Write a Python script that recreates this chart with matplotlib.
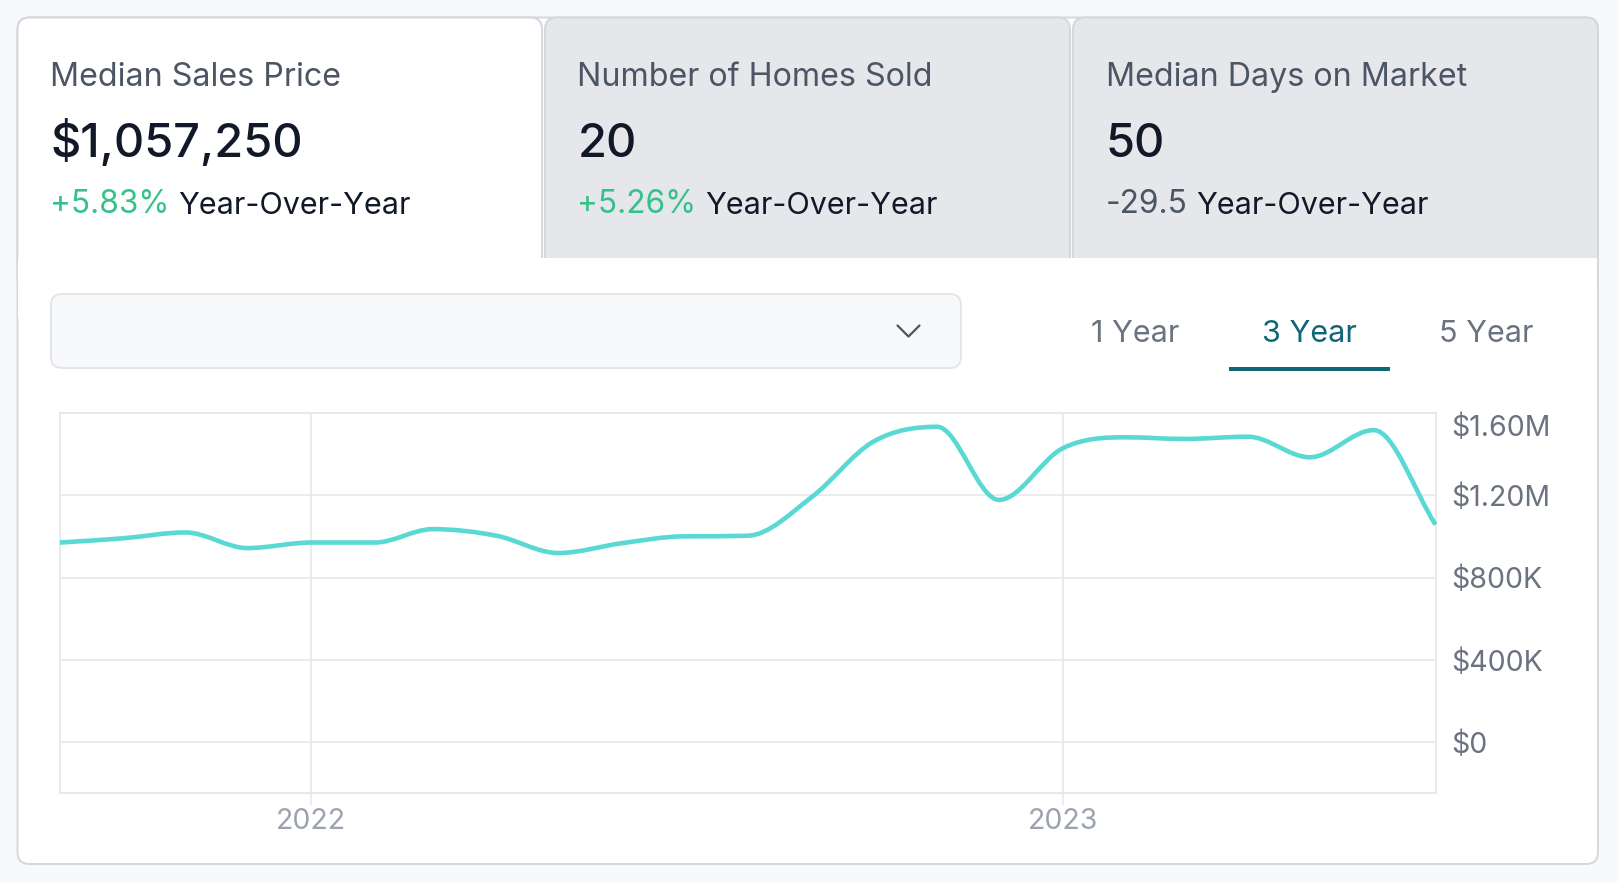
import matplotlib
matplotlib.use("Agg")
import matplotlib.pyplot as plt
import matplotlib.dates as mdates
from matplotlib.patches import FancyBboxPatch, Rectangle, PathPatch
from matplotlib.path import Path
from matplotlib.transforms import ScaledTranslation
import numpy as np
import datetime as dt

plt.rcParams['font.family'] = ['Inter', 'DejaVu Sans']

# ---------------- data ----------------
months = ["2021-09", "2021-10", "2021-11", "2021-12", "2022-01", "2022-02", "2022-03",
          "2022-04", "2022-05", "2022-06", "2022-07", "2022-08", "2022-09", "2022-10",
          "2022-11", "2022-12", "2023-01", "2023-02", "2023-03", "2023-04", "2023-05",
          "2023-06", "2023-07"]
median_price = [970000, 990000, 1019000, 943000, 970000, 970000, 1035000,
                1003000, 919000, 967000, 1000000, 1003000, 1190000, 1460000,
                1532000, 1177000, 1428000, 1481000, 1473000, 1484000, 1384000,
                1516000, 1057250]
y_ticks = [0, 400000, 800000, 1200000, 1600000]
y_tick_labels = ["$0", "$400K", "$800K", "$1.20M", "$1.60M"]
x_ticks = ["2022-01-01", "2023-01-01"]
x_tick_labels = ["2022", "2023"]

card_titles = ["Median Sales Price", "Number of Homes Sold", "Median Days on Market"]
card_values = ["$1,057,250", "20", "50"]
card_changes = ["+5.83%", "+5.26%", "-29.5"]
range_options = ["1 Year", "3 Year", "5 Year"]
selected_range = "3 Year"

# ---------------- colours ----------------
PAGE_BG = "#f8f9fb"
BORDER = "#d4d7de"
TAB_GRAY = "#e5e7eb"
TITLE_C = "#4b5563"
VALUE_C = "#111827"
GREEN = "#35c28a"
NEG_C = "#4b5563"
GRID_C = "#e5e7eb"
LINE_C = "#5ad8d4"
TEAL = "#0f6677"
MUTED = "#6b7280"
XTICK_C = "#9ca3af"

W, H = 1618, 882
fig = plt.figure(figsize=(W / 100, H / 100), dpi=100)
fig.patch.set_facecolor(PAGE_BG)

bg = fig.add_axes([0, 0, 1, 1])
bg.set_xlim(0, W)
bg.set_ylim(H, 0)
bg.axis("off")
bg.set_zorder(0)

# outer card
bg.add_patch(FancyBboxPatch((17.5, 17.5), 1598 - 17.5, 864 - 17.5,
                            boxstyle="round,pad=0,rounding_size=12",
                            facecolor="white", edgecolor=BORDER, lw=1.4, zorder=1))
# tabs
tab_boxes = [(17.5, 542), (545, 1070), (1073, 1598)]
tab_fill = ["white", TAB_GRAY, TAB_GRAY]
for (x0, x1), fc in zip(tab_boxes, tab_fill):
    bg.add_patch(FancyBboxPatch((x0, 17.5), x1 - x0, 290 - 17.5,
                                boxstyle="round,pad=0,rounding_size=12",
                                facecolor=fc, edgecolor=BORDER, lw=1.4, zorder=2))
# gaps between tabs
bg.add_patch(Rectangle((542.8, 30), 1.6, 228, facecolor=PAGE_BG, edgecolor="none", zorder=2.5))
bg.add_patch(Rectangle((1070.8, 30), 1.6, 228, facecolor=PAGE_BG, edgecolor="none", zorder=2.5))
# content cover
bg.add_patch(Rectangle((18.4, 258), 1597.1 - 18.4, 60, facecolor="white", edgecolor="none", zorder=3))

tab_text_x = [50.5, 577.5, 1106]
for i in range(3):
    x = tab_text_x[i]
    bg.text(x, 86, card_titles[i], fontsize=23.2, color=TITLE_C,
            va="baseline", ha="left", zorder=5)
    bg.text(x, 157, card_values[i], fontsize=33.8, color=VALUE_C, fontweight="medium",
            va="baseline", ha="left", zorder=5)
    cc = GREEN if card_changes[i].startswith("+") else NEG_C
    t1 = bg.text(x, 213, card_changes[i], fontsize=22.8, color=cc, va="baseline", ha="left", zorder=5)
    bg.annotate("Year-Over-Year", xy=(1, 0), xycoords=t1, xytext=(6, 0),
                textcoords="offset points", fontsize=22.0, color=VALUE_C,
                va="bottom", ha="left", zorder=5)

# dropdown
bg.add_patch(FancyBboxPatch((51, 294), 961 - 51, 368 - 294,
                            boxstyle="round,pad=0,rounding_size=11",
                            facecolor="#f8f9fb", edgecolor="#e3e5e9", lw=1.4, zorder=4))
bg.plot([897.5, 908.5, 919.5], [325.5, 336.5, 325.5], color="#4b5563", lw=1.6,
        solid_capstyle="round", solid_joinstyle="round", zorder=5)

# range selector
range_cx = [1135, 1309.5, 1486]
for lbl, cx in zip(range_options, range_cx):
    c = TEAL if lbl == selected_range else MUTED
    bg.text(cx, 341.7, lbl, fontsize=22, color=c, ha="center", va="baseline", zorder=5)
bg.add_patch(Rectangle((1229, 367), 1390 - 1229, 4, facecolor=TEAL, edgecolor="none", zorder=5))

# ---------------- chart ----------------
L, R, T, B = 60, 1435.5, 412.8, 792.5
ax = fig.add_axes([L / W, 1 - B / H, (R - L) / W, (B - T) / H])
ax.set_zorder(2)
ax.set_facecolor("white")

xd = mdates.date2num([dt.datetime.strptime(m, "%Y-%m") for m in months])
yv = np.array(median_price, dtype=float)

# monotone cubic (Chart.js style) bezier control points
n = len(xd)
dx = np.diff(xd)
dk = np.diff(yv) / dx
mk = np.zeros(n)
mk[0] = dk[0]
mk[-1] = dk[-1]
for i in range(1, n - 1):
    if np.sign(dk[i - 1]) != np.sign(dk[i]) or dk[i - 1] == 0 or dk[i] == 0:
        mk[i] = 0
    else:
        mk[i] = (dk[i - 1] + dk[i]) / 2
for i in range(n - 1):
    if dk[i] == 0:
        mk[i] = mk[i + 1] = 0
        continue
    a = mk[i] / dk[i]
    b = mk[i + 1] / dk[i]
    tau = a * a + b * b
    if tau > 9:
        tk = 3 / np.sqrt(tau)
        mk[i] = a * tk * dk[i]
        mk[i + 1] = b * tk * dk[i]

verts = [(xd[0], yv[0])]
codes = [Path.MOVETO]
for i in range(n - 1):
    d = dx[i] / 3
    verts += [(xd[i] + d, yv[i] + mk[i] * d),
              (xd[i + 1] - d, yv[i + 1] - mk[i + 1] * d),
              (xd[i + 1], yv[i + 1])]
    codes += [Path.CURVE4] * 3
ax.add_patch(PathPatch(Path(verts, codes), facecolor="none", edgecolor=LINE_C,
                       lw=3.3, capstyle="butt", joinstyle="round", zorder=3, clip_on=False))

ax.set_xlim(xd[0], xd[-1])
ax.set_ylim(-244000, 1600000)

ax.set_yticks(y_ticks)
ax.set_yticklabels(y_tick_labels)
ax.yaxis.tick_right()
ax.tick_params(axis="y", length=0, pad=11.2, labelsize=20.5, labelcolor=MUTED)
top_lbl = ax.get_yticklabels()[-1]
top_lbl.set_transform(top_lbl.get_transform() + ScaledTranslation(0, -12 / 100, fig.dpi_scale_trans))

ax.set_xticks(mdates.date2num([dt.datetime.strptime(d, "%Y-%m-%d") for d in x_ticks]))
ax.set_xticklabels(x_tick_labels)
ax.tick_params(axis="x", length=8.3, width=1.1, color=GRID_C, pad=3, labelsize=20.5,
               labelcolor=XTICK_C)

ax.grid(True, color=GRID_C, lw=1.2, zorder=1)
ax.set_axisbelow(True)
for s in ax.spines.values():
    s.set_color(GRID_C)
    s.set_linewidth(1.3)

fig.savefig("out.png", dpi=100, facecolor=fig.get_facecolor())
